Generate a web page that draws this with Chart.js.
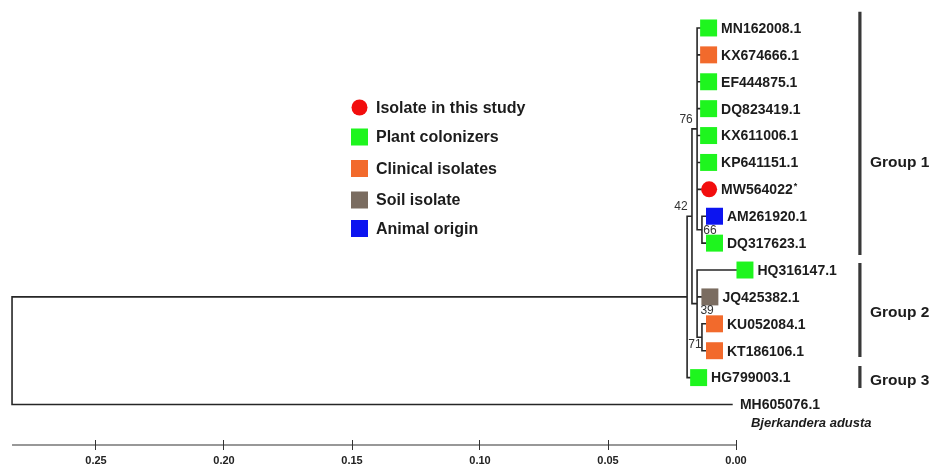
<!DOCTYPE html>
<html>
<head>
<meta charset="utf-8">
<script src="https://cdn.jsdelivr.net/npm/chart.js@4.4.1/dist/chart.umd.min.js"></script>
<style>
  html, body { margin: 0; padding: 0; background: #fff; }
  #tree { display: block; }
</style>
</head>
<body>
<canvas id="tree" width="936" height="468"></canvas>
<script>
// taxa, top to bottom
const taxa = ['MN162008.1', 'KX674666.1', 'EF444875.1', 'DQ823419.1', 'KX611006.1', 'KP641151.1',
  'MW564022*', 'AM261920.1', 'DQ317623.1', 'HQ316147.1', 'JQ425382.1', 'KU052084.1',
  'KT186106.1', 'HG799003.1', 'MH605076.1'];
const taxonSource = [1, 2, 1, 1, 1, 1, 0, 4, 1, 1, 3, 2, 2, 1, -1];
const tipDepth = [0.0107, 0.0107, 0.0107, 0.0107, 0.0107, 0.0107, 0.0105, 0.0084, 0.0084,
  -0.0035, 0.0102, 0.0084, 0.0084, 0.0146, 0.0016];
const outgroupSpecies = 'Bjerkandera adusta';

// internal nodes: depth on the scale, children (t = taxon, n = node), bootstrap
const nodeDepth = [0.2828, 0.0191, 0.0172, 0.0152, 0.0133, 0.0152, 0.0133];
const nodeChildren = [
  ['n1', 't14'],
  ['n2', 't13'],
  ['n3', 'n5'],
  ['t0', 't1', 't2', 't3', 't4', 't5', 't6', 'n4'],
  ['t7', 't8'],
  ['t9', 't10', 'n6'],
  ['t11', 't12']
];
const bootstrap = ['', '', '42', '76', '66', '39', '71'];

const sourceNames = ['Isolate in this study', 'Plant colonizers', 'Clinical isolates', 'Soil isolate', 'Animal origin'];
const sourceColors = ['#f20d0d', '#1ef51e', '#f26a2c', '#7a6c60', '#0c14f0'];

const groupNames = ['Group 1', 'Group 2', 'Group 3'];
const groupFrom = [0.4, 9.74, 13.57];
const groupTo = [9.44, 13.23, 14.39];
const groupLabelRow = [6.0, 11.6, 14.1];

const scaleTicks = [0.25, 0.20, 0.15, 0.10, 0.05, 0.00];

// ---- layout / style ----
const FONT = "'Liberation Sans', Arial, sans-serif";
const INK = '#1c1c1c';
const groupBarDepth = -0.0484;
const bootOffset = [null, null, [-11, -10], [-11, -9], [8, 1], [10, 7], [-7, 7]];

function rowOf(ref) {
  const i = +ref.slice(1);
  if (ref[0] === 't') return i + 1;
  const kids = nodeChildren[i];
  return (rowOf(kids[0]) + rowOf(kids[kids.length - 1])) / 2;
}
function depthOf(ref) {
  const i = +ref.slice(1);
  return ref[0] === 't' ? tipDepth[i] : nodeDepth[i];
}

const GAP = { x: null, y: null };
const branchPts = [];
nodeChildren.forEach((kids, n) => {
  const x = nodeDepth[n];
  const first = kids[0], last = kids[kids.length - 1];
  branchPts.push(
    { x: depthOf(first), y: rowOf(first) }, { x, y: rowOf(first) },
    { x, y: rowOf(last) }, { x: depthOf(last), y: rowOf(last) }, GAP);
  kids.slice(1, -1).forEach((k) => {
    branchPts.push({ x, y: rowOf(k) }, { x: depthOf(k), y: rowOf(k) }, GAP);
  });
});

const groupPts = [];
groupNames.forEach((g, i) => {
  groupPts.push({ x: groupBarDepth, y: groupFrom[i] }, { x: groupBarDepth, y: groupTo[i] }, GAP);
});

const markerIdx = taxa.map((t, i) => i).filter((i) => taxonSource[i] >= 0);
const markerPts = markerIdx.map((i) => ({ x: tipDepth[i], y: i + 1 }));
const markerStyle = markerIdx.map((i) => (taxonSource[i] === 0 ? 'circle' : 'rect'));
const markerRadius = markerIdx.map((i) => (taxonSource[i] === 0 ? 8 : 12));
const markerColor = markerIdx.map((i) => sourceColors[taxonSource[i]]);

const treeText = {
  id: 'treeText',
  afterDatasetsDraw(chart) {
    const { ctx, scales: { x: xs, y: ys } } = chart;
    ctx.save();

    // scale bar line
    const ay = xs.top + 5;
    ctx.strokeStyle = '#333';
    ctx.lineWidth = 1.2;
    ctx.beginPath();
    ctx.moveTo(xs.getPixelForValue(nodeDepth[0]), ay);
    ctx.lineTo(xs.getPixelForValue(0), ay);
    ctx.stroke();

    // taxon names
    ctx.fillStyle = INK;
    ctx.textBaseline = 'middle';
    ctx.textAlign = 'left';
    taxa.forEach((name, i) => {
      const src = taxonSource[i];
      const px = xs.getPixelForValue(tipDepth[i]) + (src < 0 ? 8 : src === 0 ? 12 : 12.5);
      const py = ys.getPixelForValue(i + 1) + 1;
      ctx.font = `bold 14px ${FONT}`;
      if (name.endsWith('*')) {
        const base = name.slice(0, -1);
        ctx.fillText(base, px, py);
        const w = ctx.measureText(base).width;
        ctx.font = `bold 9px ${FONT}`;
        ctx.fillText('*', px + w + 1, py - 4);
      } else {
        ctx.fillText(name, px, py);
      }
      if (src < 0) {
        ctx.font = `italic bold 13px ${FONT}`;
        ctx.fillText(outgroupSpecies, px + 11, py + 18);
      }
    });

    // bootstrap values
    ctx.font = `12px ${FONT}`;
    ctx.fillStyle = '#333';
    ctx.textAlign = 'center';
    nodeChildren.forEach((kids, n) => {
      if (!bootstrap[n]) return;
      const off = bootOffset[n];
      const px = xs.getPixelForValue(nodeDepth[n]) + off[0];
      const py = ys.getPixelForValue(rowOf('n' + n)) + off[1];
      ctx.fillText(bootstrap[n], px, py);
    });

    // group labels
    ctx.font = `bold 15.5px ${FONT}`;
    ctx.fillStyle = INK;
    ctx.textAlign = 'left';
    groupNames.forEach((g, i) => {
      ctx.fillText(g, xs.getPixelForValue(groupBarDepth) + 10, ys.getPixelForValue(groupLabelRow[i]));
    });

    // legend
    const legendY = [107.5, 137, 168.5, 200, 228.5];
    const lx = 359.5;
    sourceNames.forEach((s, i) => {
      ctx.fillStyle = sourceColors[i];
      if (i === 0) {
        ctx.beginPath();
        ctx.arc(lx, legendY[i], 8, 0, Math.PI * 2);
        ctx.fill();
      } else {
        ctx.fillRect(lx - 8.5, legendY[i] - 8.5, 17, 17);
      }
      ctx.fillStyle = INK;
      ctx.font = `bold 16px ${FONT}`;
      ctx.fillText(s, 376, legendY[i] + 1);
    });

    ctx.restore();
  }
};

new Chart(document.getElementById('tree'), {
  type: 'scatter',
  data: {
    datasets: [
      {
        label: 'taxa',
        data: markerPts,
        pointStyle: markerStyle,
        pointRadius: markerRadius,
        pointBackgroundColor: markerColor,
        pointBorderWidth: 0,
        order: 0,
      },
      {
        label: 'branches',
        data: branchPts,
        showLine: true,
        spanGaps: false,
        borderColor: '#262626',
        borderWidth: 1.6,
        borderCapStyle: 'square',
        pointRadius: 0,
        order: 2,
      },
      {
        label: 'groups',
        data: groupPts,
        showLine: true,
        spanGaps: false,
        borderColor: '#383838',
        borderWidth: 3.2,
        pointRadius: 0,
        order: 1,
      },
    ],
  },
  options: {
    responsive: false,
    animation: false,
    devicePixelRatio: 1,
    events: [],
    layout: { padding: 0, autoPadding: false },
    plugins: { legend: { display: false }, tooltip: { enabled: false } },
    scales: {
      x: {
        type: 'linear',
        reverse: true,
        min: -0.078125,
        max: 0.2875,
        afterBuildTicks: (s) => { s.ticks = scaleTicks.map((v) => ({ value: v })); },
        afterFit: (s) => { s.height = 28; },
        grid: { drawOnChartArea: false, drawTicks: true, tickLength: 10, color: '#333', lineWidth: 1 },
        border: { display: false },
        ticks: {
          callback: (v) => v.toFixed(2),
          font: { family: FONT, size: 11, weight: 'bold' },
          color: '#222',
          padding: 4,
          maxRotation: 0,
          autoSkip: false,
        },
      },
      y: { type: 'linear', display: false, reverse: true, min: -0.04, max: 16.32 },
    },
  },
  plugins: [treeText],
});
</script>
</body>
</html>
